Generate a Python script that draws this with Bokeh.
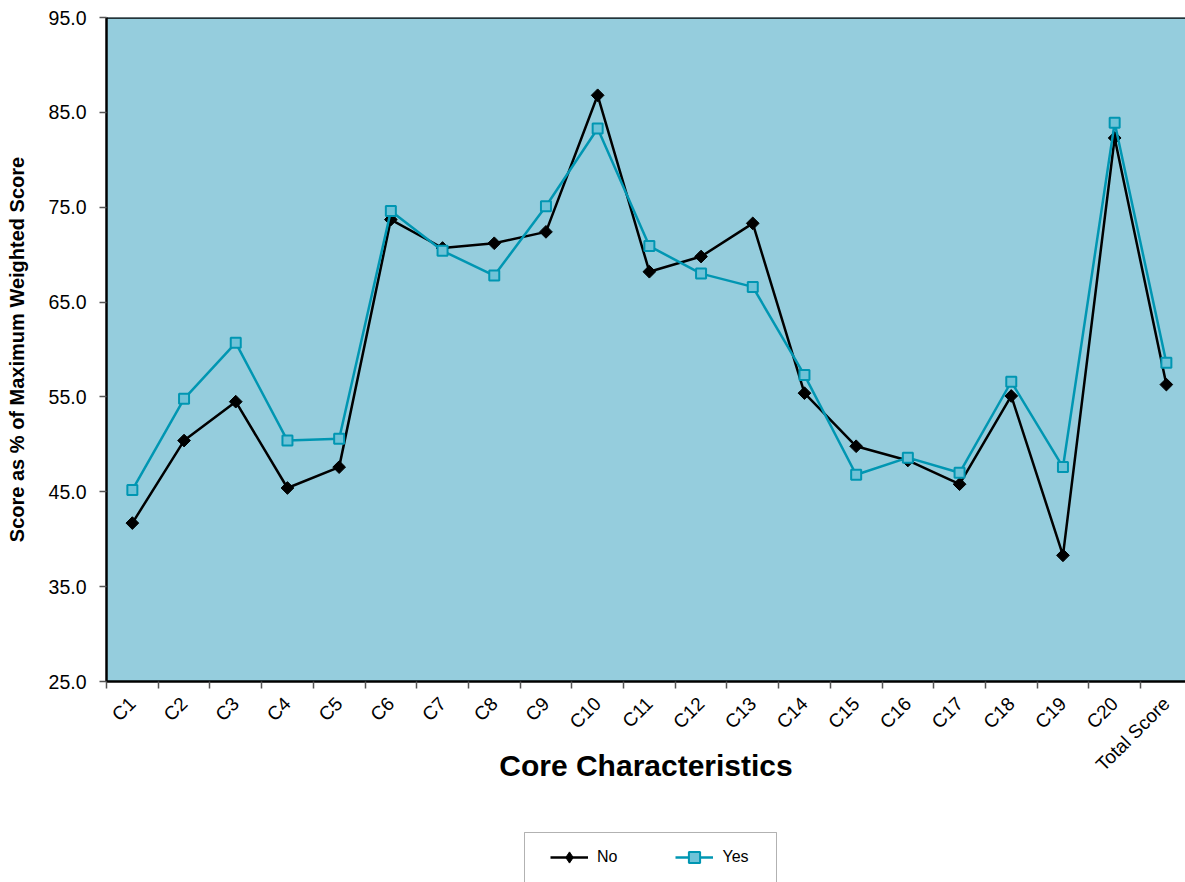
import numpy as np
from bokeh.plotting import figure
from bokeh.layouts import column
from bokeh.models import (FixedTicker, Range1d, Legend, LegendItem, Span,
                          BoxAnnotation, PrintfTickFormatter)
from bokeh.embed import file_html
from bokeh.resources import INLINE

# Scores per core characteristic, as % of maximum weighted score
categories = ["C1", "C2", "C3", "C4", "C5", "C6", "C7", "C8", "C9", "C10",
              "C11", "C12", "C13", "C14", "C15", "C16", "C17", "C18", "C19",
              "C20", "Total Score"]
no_scores = [41.7, 50.4, 54.5, 45.4, 47.6, 73.7, 70.7, 71.2, 72.4, 86.8,
             68.2, 69.8, 73.3, 55.4, 49.8, 48.3, 45.8, 55.1, 38.3, 82.3, 56.3]
yes_scores = [45.2, 54.8, 60.7, 50.4, 50.6, 74.6, 70.4, 67.8, 75.1, 83.3,
              70.9, 68.0, 66.6, 57.3, 46.8, 48.6, 47.0, 56.6, 47.6, 83.9, 58.6]
y_ticks = [25, 35, 45, 55, 65, 75, 85, 95]

FONT = "Liberation Sans"
PLOT_BG = "#95CDDD"
TEAL = "#0096B2"
TEAL_FILL = "#6FC3D8"

W = 1185
MAIN_H = 800
KEY_H = 82
LEFT = 106

# category centres sit at i + 0.5, category boundaries at integers
x_pos = [i + 0.5 for i in range(len(categories))]
boundaries = list(range(len(categories) + 1))

p = figure(width=W, height=MAIN_H, output_backend="svg", toolbar_location=None,
           x_range=Range1d(0, 20.87), y_range=Range1d(y_ticks[0], y_ticks[-1]),
           min_border_left=LEFT, min_border_right=0, min_border_top=17,
           min_border_bottom=119)
p.background_fill_color = PLOT_BG
p.border_fill_color = "white"
p.outline_line_color = None
p.xgrid.visible = False
p.ygrid.visible = False

# frame top edge
p.add_layout(Span(location=y_ticks[-1], dimension="width", line_color="black",
                  line_width=2.5))

# x axis: labels at category centres, tick marks at boundaries
xa = p.xaxis[0]
xa.ticker = FixedTicker(ticks=x_pos, minor_ticks=boundaries)
xa.major_label_overrides = {x: c for x, c in zip(x_pos, categories)}
xa.major_label_orientation = np.pi / 4
xa.major_tick_out = 0
xa.major_tick_in = 0
xa.minor_tick_out = 7
xa.minor_tick_in = 0
xa.minor_tick_line_color = "#555555"
xa.minor_tick_line_width = 1.5
xa.axis_line_color = "black"
xa.axis_line_width = 2.5
xa.major_label_text_font = FONT
xa.major_label_text_font_size = "19px"
xa.major_label_text_color = "black"
xa.major_label_standoff = 12
xa.axis_label = "Core Characteristics"
xa.axis_label_text_font = FONT
xa.axis_label_text_font_size = "30px"
xa.axis_label_text_font_style = "bold"
xa.axis_label_text_color = "black"
xa.axis_label_standoff = -37

# y axis
ya = p.yaxis[0]
ya.ticker = FixedTicker(ticks=y_ticks, minor_ticks=[])
ya.formatter = PrintfTickFormatter(format="%.1f")
ya.major_tick_out = 7
ya.major_tick_in = 0
ya.major_tick_line_color = "#555555"
ya.major_tick_line_width = 1.5
ya.minor_tick_out = 0
ya.minor_tick_in = 0
ya.axis_line_color = "black"
ya.axis_line_width = 2.5
ya.major_label_text_font = FONT
ya.major_label_text_font_size = "19.5px"
ya.major_label_text_color = "black"
ya.major_label_standoff = 13
ya.axis_label = "Score as % of Maximum Weighted Score"
ya.axis_label_text_font = FONT
ya.axis_label_text_font_size = "20px"
ya.axis_label_text_font_style = "bold"
ya.axis_label_text_color = "black"
ya.axis_label_standoff = 18

# series styles
no_line_style = dict(line_color="black", line_width=2.5)
no_pt_style = dict(marker="square", angle=np.pi / 4, size=9,
                   fill_color="black", line_color="black")
yes_line_style = dict(line_color=TEAL, line_width=2.5)
yes_pt_style = dict(marker="square", size=10, fill_color=TEAL_FILL,
                    line_color=TEAL, line_width=2)

p.line(x_pos, no_scores, **no_line_style)
p.scatter(x_pos, no_scores, **no_pt_style)
p.line(x_pos, yes_scores, **yes_line_style)
p.scatter(x_pos, yes_scores, **yes_pt_style)

# key strip underneath the chart; its frame lines up with the chart frame,
# x in canvas pixels, y counted downward from the top of the strip (negative)
k = figure(width=W, height=KEY_H, output_backend="svg", toolbar_location=None,
           x_range=Range1d(LEFT, W), y_range=Range1d(-KEY_H, 0),
           x_axis_type=None, y_axis_type=None, min_border=0,
           min_border_left=LEFT)
k.outline_line_color = None
k.xgrid.visible = False
k.ygrid.visible = False
k.background_fill_color = "white"
k.border_fill_color = "white"

k.add_layout(BoxAnnotation(left=524, right=776, top=-32, bottom=-110,
                           fill_color="white", fill_alpha=1.0,
                           line_color="black", line_width=1))

# key entries reuse the series (their points fall outside this strip's ranges)
key_no_line = k.line(x_pos, no_scores, **no_line_style)
key_no_pt = k.scatter(x_pos, no_scores, marker="diamond", size=14,
                      fill_color="black", line_color="black")
key_yes_line = k.line(x_pos, yes_scores, **yes_line_style)
key_yes_pt = k.scatter(x_pos, yes_scores, **yes_pt_style)

legend = Legend(items=[LegendItem(label="No", renderers=[key_no_line, key_no_pt]),
                       LegendItem(label="Yes", renderers=[key_yes_line, key_yes_pt])],
                orientation="horizontal", location=(550 - LEFT, 11),
                padding=0, margin=0, spacing=58, glyph_width=38,
                glyph_height=28, label_standoff=9,
                label_text_font=FONT, label_text_font_size="16px",
                label_text_color="black", border_line_alpha=0,
                background_fill_alpha=0)
k.add_layout(legend, "center")

layout = column(p, k, spacing=0)
open("out.html", "w").write(file_html(layout, INLINE))
